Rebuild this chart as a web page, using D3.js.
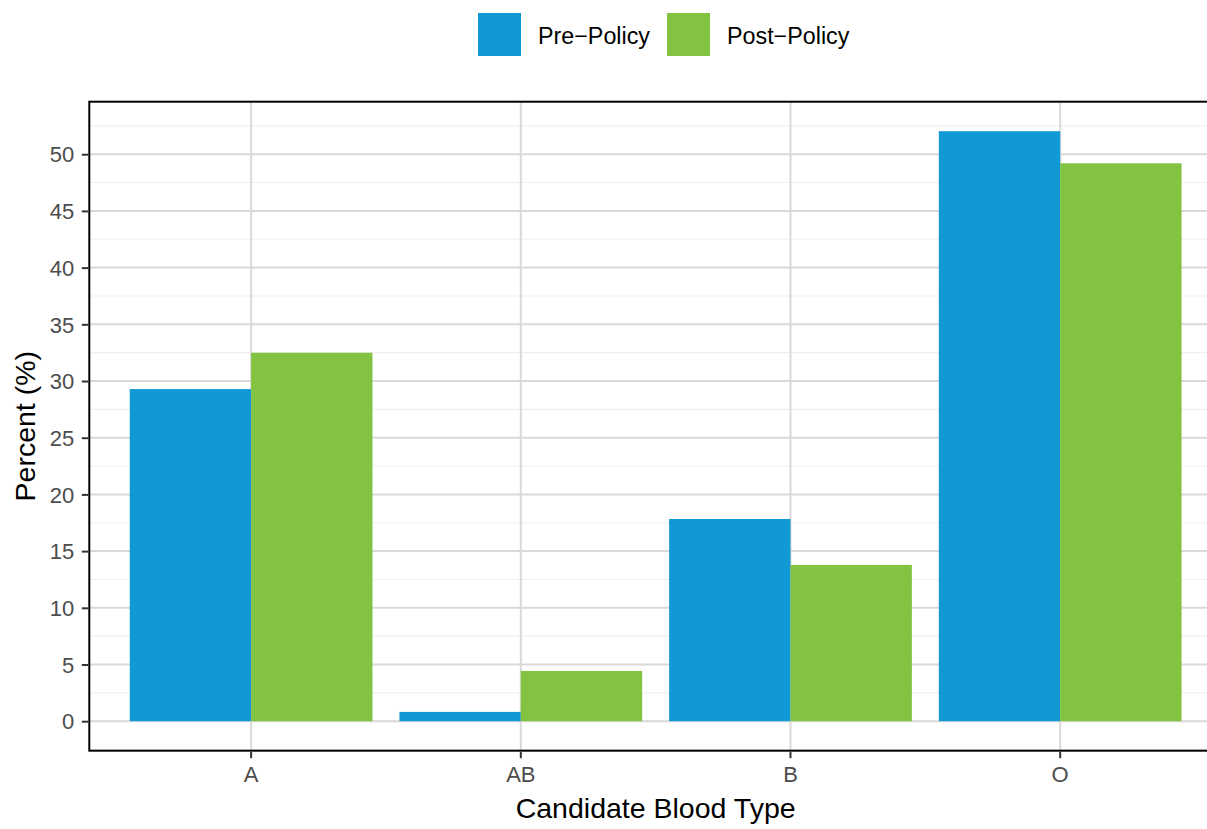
<!DOCTYPE html>
<html>
<head>
<meta charset="utf-8">
<script src="https://cdn.jsdelivr.net/npm/d3@7"></script>
<style>
  html, body { margin: 0; padding: 0; background: #fff; }
  svg { display: block; font-family: "Liberation Sans", Arial, sans-serif; }
</style>
</head>
<body>
<svg id="chart" width="1207" height="829"></svg>
<script>
const categories = ["A", "AB", "B", "O"];
const seriesNames = ["Pre\u2212Policy", "Post\u2212Policy"];
const preValues = [29.29, 0.82, 17.83, 52.03];
const postValues = [32.49, 4.43, 13.78, 49.2];
const yTicks = [0, 5, 10, 15, 20, 25, 30, 35, 40, 45, 50];
const yMinor = [-2.5, 2.5, 7.5, 12.5, 17.5, 22.5, 27.5, 32.5, 37.5, 42.5, 47.5, 52.5];
const colors = ["#1199D6", "#82C341"];

const svg = d3.select("#chart");
const panel = { left: 89.3, right: 1222, top: 101.7, bottom: 750.7 };

const maxV = d3.max(preValues.concat(postValues));
const pad = 0.05 * maxV;
const y = d3.scaleLinear().domain([-pad, maxV + pad]).range([panel.bottom, panel.top]);
const x0 = d3.scaleBand().domain(categories).range([panel.left, panel.right])
  .paddingInner(0.1).paddingOuter(0.15);
const x1 = d3.scaleBand().domain(seriesNames).range([0, x0.bandwidth()]);

svg.append("defs").append("clipPath").attr("id", "pclip")
  .append("rect").attr("x", panel.left).attr("y", panel.top)
  .attr("width", panel.right - panel.left).attr("height", panel.bottom - panel.top);

const g = svg.append("g").attr("clip-path", "url(#pclip)");
// minor grid
g.selectAll(".minor").data(yMinor).enter().append("line")
  .attr("x1", panel.left).attr("x2", panel.right)
  .attr("y1", d => y(d)).attr("y2", d => y(d))
  .attr("stroke", "#EFEFEF").attr("stroke-width", 1.1);
// major grid
g.selectAll(".major").data(yTicks).enter().append("line")
  .attr("x1", panel.left).attr("x2", panel.right)
  .attr("y1", d => y(d)).attr("y2", d => y(d))
  .attr("stroke", "#D9D9D9").attr("stroke-width", 2);
g.selectAll(".vmajor").data(categories).enter().append("line")
  .attr("x1", d => x0(d) + x0.bandwidth() / 2).attr("x2", d => x0(d) + x0.bandwidth() / 2)
  .attr("y1", panel.top).attr("y2", panel.bottom)
  .attr("stroke", "#D9D9D9").attr("stroke-width", 2);

// bars
const seriesValues = [preValues, postValues];
seriesNames.forEach((s, si) => {
  g.selectAll(".bar" + si).data(categories).enter().append("rect")
    .attr("x", d => x0(d) + x1(s))
    .attr("width", x1.bandwidth())
    .attr("y", (d, i) => y(seriesValues[si][i]))
    .attr("height", (d, i) => y(0) - y(seriesValues[si][i]))
    .attr("fill", colors[si]);
});

// border
svg.append("rect").attr("x", panel.left).attr("y", panel.top)
  .attr("width", panel.right - panel.left).attr("height", panel.bottom - panel.top)
  .attr("fill", "none").attr("stroke", "#000").attr("stroke-width", 2);

// y axis
const yAxis = d3.axisLeft(y).tickValues(yTicks).tickSize(6.5).tickPadding(7.5);
const ya = svg.append("g").attr("transform", `translate(${panel.left - 1},0)`).call(yAxis);
ya.select(".domain").remove();
ya.selectAll(".tick line").attr("stroke", "#333").attr("stroke-width", 2);
ya.selectAll(".tick text").attr("fill", "#4D4D4D").style("font-size", "22px")
  .style("font-family", "'Liberation Sans', Arial, sans-serif").attr("dy", "0.35em");

// x axis
const xAxis = d3.axisBottom(x0).tickSize(6.5).tickPadding(8.5);
const xa = svg.append("g").attr("transform", `translate(0,${panel.bottom + 1})`).call(xAxis);
xa.select(".domain").remove();
xa.selectAll(".tick line").attr("stroke", "#333").attr("stroke-width", 2);
xa.selectAll(".tick text").attr("fill", "#4D4D4D").style("font-size", "22px")
  .style("font-family", "'Liberation Sans', Arial, sans-serif");

// axis titles
svg.append("text").attr("x", (panel.left + panel.right) / 2).attr("y", 818)
  .attr("text-anchor", "middle").style("font-size", "28.5px").attr("fill", "#000")
  .text("Candidate Blood Type");
svg.append("text")
  .attr("transform", `translate(35,${(panel.top + panel.bottom) / 2}) rotate(-90)`)
  .attr("text-anchor", "middle").style("font-size", "28.5px").attr("fill", "#000")
  .text("Percent (%)");

// legend
const legX = [478, 667];
const leg = svg.append("g");
seriesNames.forEach((s, i) => {
  leg.append("rect").attr("x", legX[i]).attr("y", 13).attr("width", 43).attr("height", 43)
    .attr("fill", colors[i]);
  leg.append("text").attr("x", legX[i] + 60).attr("y", 44)
    .style("font-size", "23.3px").attr("fill", "#000").text(s);
});
</script>
</body>
</html>
